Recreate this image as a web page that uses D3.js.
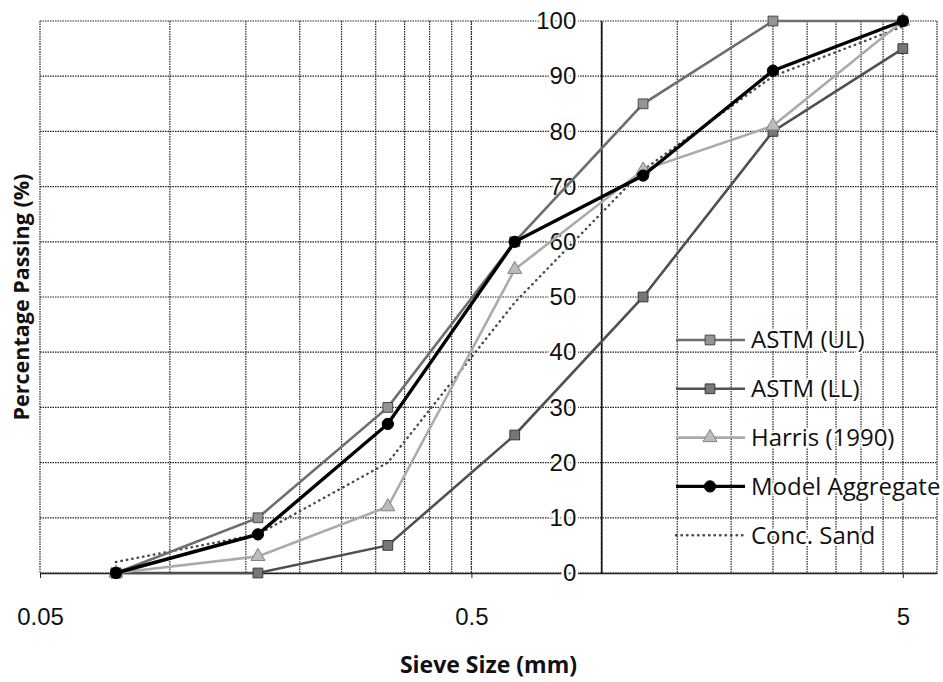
<!DOCTYPE html>
<html>
<head>
<meta charset="utf-8">
<script src="https://cdn.jsdelivr.net/npm/d3@7"></script>
<style>
  body { margin: 0; background: #fff; }
  svg { font-family: "Open Sans", "DejaVu Sans", sans-serif; }
  .grid line { stroke: #222; stroke-width: 1.2; stroke-dasharray: 1.5,1; }
  .tickLab { font-size: 24px; fill: #111; }
  .axTitle { font-size: 23px; font-weight: bold; fill: #111; }
  .legText { font-size: 24px; fill: #111; }
</style>
</head>
<body>
<script>
// sieve sizes (mm)
var sieveSizes = [0.075, 0.16, 0.32, 0.63, 1.25, 2.5, 5];
// percentage passing for every series
var astmUL   = [0, 10, 30, 60, 85, 100, 100];
var astmLL   = [0, 0, 5, 25, 50, 80, 95];
var harris   = [0, 3, 12, 55, 73, 81, 100];
var modelAgg = [0, 7, 27, 60, 72, 91, 100];
var concSand = [2, 7, 20, 49, 73, 90, 99];
var seriesNames = ["ASTM (UL)", "ASTM (LL)", "Harris (1990)", "Model Aggregate", "Conc. Sand"];
// tick labels
var xTicks = [0.05, 0.5, 5];
var yTicks = [0, 10, 20, 30, 40, 50, 60, 70, 80, 90, 100];

var width = 943, height = 682;
var pad = {top: 21, bottom: 109, left: 40, right: 6};

var svg = d3.select("body")
            .append("svg")
            .attr("width", width)
            .attr("height", height);

var xScale = d3.scaleLog()
               .domain([0.05, 6])
               .range([pad.left, width - pad.right]);
var yScale = d3.scaleLinear()
               .domain([0, 100])
               .range([height - pad.bottom, pad.top]);

// gridlines: every multiple of the decade start (0.05, 0.1 ... 0.5, 1 ... 5)
var vGrid = [];
for (var base of [0.05, 0.5]){
    for (var k = 1; k <= 10; k++){
        vGrid.push(+(base * k).toFixed(3));
    }
}
var grid = svg.append("g").attr("class", "grid");
grid.selectAll(".vg")
    .data(vGrid).enter()
    .append("line")
    .attr("x1", d => xScale(d)).attr("x2", d => xScale(d))
    .attr("y1", yScale(100)).attr("y2", yScale(0));
grid.selectAll(".hg")
    .data(yTicks).enter()
    .append("line")
    .attr("x1", xScale.range()[0]).attr("x2", xScale.range()[1])
    .attr("y1", d => yScale(d)).attr("y2", d => yScale(d));
// right border
grid.append("line")
    .attr("x1", xScale.range()[1]).attr("x2", xScale.range()[1])
    .attr("y1", yScale(100)).attr("y2", yScale(0));

// x axis along the bottom
var xAxisCall = d3.axisBottom(xScale)
                  .tickValues(xTicks)
                  .tickFormat(d => String(d))
                  .tickSize(5)
                  .tickSizeOuter(0)
                  .tickPadding(30);
var xAx = svg.append("g")
   .attr("transform", "translate(0," + yScale(0) + ")")
   .call(xAxisCall);
xAx.select(".domain").attr("stroke", "#222").attr("stroke-width", 1.3);
xAx.selectAll(".tick line").attr("stroke", "#222");
xAx.selectAll(".tick text").attr("class", "tickLab").attr("font-family", null).attr("font-size", null);

// y axis crosses at 1 mm
var yAxisCall = d3.axisLeft(yScale)
                  .tickValues(yTicks)
                  .tickSize(0)
                  .tickPadding(25);
var yAx = svg.append("g")
   .attr("transform", "translate(" + xScale(1) + ",0)")
   .call(yAxisCall);
yAx.select(".domain").attr("stroke", "#111").attr("stroke-width", 1.6);
yAx.selectAll(".tick text")
   .attr("class", "tickLab")
   .attr("font-family", null).attr("font-size", null)
   .attr("stroke", "#fff").attr("stroke-width", 5)
   .attr("paint-order", "stroke");

// series styles
var seriesData = [astmUL, astmLL, harris, modelAgg, concSand];
var styles = [
  {stroke: "#6e6e6e", width: 2.6, dash: null, marker: "square", fill: "#959595", mstroke: "#4a4a4a"},
  {stroke: "#505050", width: 2.6, dash: null, marker: "square", fill: "#777777", mstroke: "#3a3a3a"},
  {stroke: "#ababab", width: 2.6, dash: null, marker: "triangle", fill: "#bcbcbc", mstroke: "#808080"},
  {stroke: "#000000", width: 3.4, dash: null, marker: "circle", fill: "#000", mstroke: "#000"},
  {stroke: "#4a4a4a", width: 2.4, dash: "0.5,5", marker: null, fill: null, mstroke: null}
];
var symbolType = {square: d3.symbolSquare, triangle: d3.symbolTriangle, circle: d3.symbolCircle};
var symbolSize = {square: 95, triangle: 85, circle: 100};

var line = d3.line()
             .x(d => xScale(d.x))
             .y(d => yScale(d.y));

var lines = svg.append("g").attr("class", "lines");
// draw back to front so the black curve sits on top
var order = [4, 0, 1, 2, 3];
for (var i of order){
    var pts = sieveSizes.map((s, j) => ({x: s, y: seriesData[i][j]}));
    var st = styles[i];
    var grp = lines.append("g");
    grp.append("path")
       .attr("d", line(pts))
       .attr("fill", "none")
       .attr("stroke", st.stroke)
       .attr("stroke-width", st.width)
       .attr("stroke-linecap", st.dash ? "round" : "butt")
       .attr("stroke-dasharray", st.dash);
    if (st.marker){
        grp.selectAll("path.mk")
           .data(pts).enter()
           .append("path")
           .attr("class", "mk")
           .attr("transform", d => "translate(" + xScale(d.x) + "," + yScale(d.y) + ")")
           .attr("d", d3.symbol().type(symbolType[st.marker]).size(symbolSize[st.marker]))
           .attr("fill", st.fill)
           .attr("stroke", st.mstroke)
           .attr("stroke-width", 1);
    }
}

// legend
var legend = svg.append("g").attr("class", "legend");
var legY0 = 340, legStep = 48.8;
seriesNames.forEach(function(name, i){
    var st = styles[i];
    var y = legY0 + i * legStep;
    legend.append("line")
          .attr("x1", 676).attr("x2", 745)
          .attr("y1", y).attr("y2", y)
          .attr("stroke", st.stroke)
          .attr("stroke-width", st.width)
          .attr("stroke-linecap", st.dash ? "round" : "butt")
          .attr("stroke-dasharray", st.dash);
    if (st.marker){
        legend.append("path")
              .attr("transform", "translate(710," + y + ")")
              .attr("d", d3.symbol().type(symbolType[st.marker]).size(symbolSize[st.marker]))
              .attr("fill", st.fill)
              .attr("stroke", st.mstroke);
    }
    legend.append("text")
          .attr("class", "legText")
          .attr("x", 751)
          .attr("y", y)
          .attr("dy", "0.35em")
          .attr("stroke", "#fff").attr("stroke-width", 4)
          .attr("paint-order", "stroke")
          .text(name);
});

// axis titles
svg.append("text")
   .attr("class", "axTitle")
   .attr("x", (xScale.range()[0] + xScale.range()[1]) / 2)
   .attr("y", 673)
   .style("text-anchor", "middle")
   .text("Sieve Size (mm)");
svg.append("text")
   .attr("class", "axTitle")
   .attr("transform", "rotate(-90)")
   .attr("x", -(yScale(0) + yScale(100)) / 2)
   .attr("y", 29)
   .style("text-anchor", "middle")
   .style("font-size", "21.5px")
   .text("Percentage Passing (%)");
</script>
</body>
</html>
